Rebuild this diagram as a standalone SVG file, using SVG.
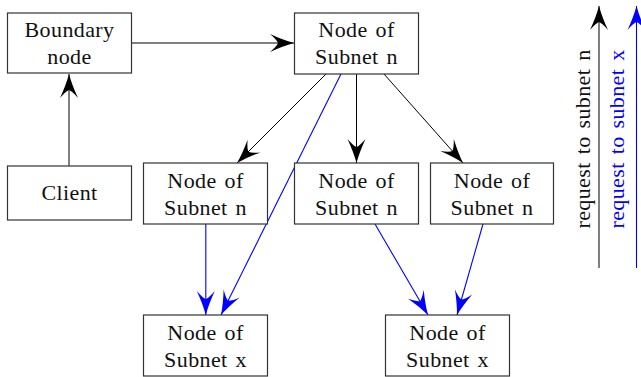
<svg xmlns="http://www.w3.org/2000/svg" width="641" height="377" viewBox="0 0 641 377">
<style>
.box{fill:#fff;stroke:#333;stroke-width:1.2}
.t{font-family:'Liberation Serif','Times New Roman',Times,serif;font-size:22px;fill:#111;text-anchor:middle;word-spacing:2px;letter-spacing:0.4px}
.k{stroke:#000;stroke-width:1;fill:none}
.b{stroke:#0000ff;stroke-width:1.1;fill:none}
</style>
<defs>
<marker id="ak" markerUnits="userSpaceOnUse" markerWidth="30" markerHeight="24" viewBox="-26 -12 28 24" refX="0" refY="0" orient="auto">
<path d="M0,0 Q-11,-3 -24,-9 Q-17,-3 -16,0 Q-17,3 -24,9 Q-11,3 0,0 Z" fill="#000"/>
</marker>
<marker id="ab" markerUnits="userSpaceOnUse" markerWidth="30" markerHeight="24" viewBox="-26 -12 28 24" refX="0" refY="0" orient="auto">
<path d="M0,0 Q-11,-3 -24,-9 Q-17,-3 -16,0 Q-17,3 -24,9 Q-11,3 0,0 Z" fill="#0000ff"/>
</marker>
</defs>
<rect width="641" height="377" fill="#fff"/>
<g id="connectors">
<line class="k" x1="131" y1="43" x2="294" y2="43" marker-end="url(#ak)"/>
<line class="k" x1="69" y1="166" x2="69" y2="74" marker-end="url(#ak)"/>
<line class="k" x1="326" y1="74" x2="237" y2="163" marker-end="url(#ak)"/>
<line class="k" x1="356.5" y1="74" x2="356.5" y2="163" marker-end="url(#ak)"/>
<line class="k" x1="384" y1="74" x2="463" y2="163" marker-end="url(#ak)"/>
<line class="b" x1="341" y1="74" x2="221" y2="315" marker-end="url(#ab)"/>
<line class="b" x1="205.8" y1="224" x2="205.8" y2="315" marker-end="url(#ab)"/>
<line class="b" x1="375" y1="224" x2="428" y2="315" marker-end="url(#ab)"/>
<line class="b" x1="483" y1="224" x2="457" y2="315" marker-end="url(#ab)"/>
</g>
<g id="boundary">
<rect class="box" x="7.5" y="13" width="124" height="60"/>
<text class="t" x="69.5" y="37">Boundary</text>
<text class="t" x="69.5" y="64">node</text>
</g>
<g id="client">
<rect class="box" x="7.5" y="166" width="124" height="54"/>
<text class="t" x="69.5" y="200">Client</text>
</g>
<g id="top-n">
<rect class="box" x="294.5" y="13" width="124" height="61"/>
<text class="t" x="356.5" y="37">Node of</text>
<text class="t" x="356.5" y="64">Subnet n</text>
</g>
<g id="mid-n1">
<rect class="box" x="143.5" y="163" width="124" height="61"/>
<text class="t" x="205.5" y="188">Node of</text>
<text class="t" x="205.5" y="215">Subnet n</text>
</g>
<g id="mid-n2">
<rect class="box" x="294.5" y="163" width="124" height="61"/>
<text class="t" x="356.5" y="188">Node of</text>
<text class="t" x="356.5" y="215">Subnet n</text>
</g>
<g id="mid-n3">
<rect class="box" x="430.5" y="163" width="123" height="61"/>
<text class="t" x="492" y="188">Node of</text>
<text class="t" x="492" y="215">Subnet n</text>
</g>
<g id="bot-x1">
<rect class="box" x="143.5" y="315" width="124" height="61"/>
<text class="t" x="205.5" y="340">Node of</text>
<text class="t" x="205.5" y="367">Subnet x</text>
</g>
<g id="bot-x2">
<rect class="box" x="385.5" y="315" width="124" height="61"/>
<text class="t" x="447.5" y="340">Node of</text>
<text class="t" x="447.5" y="367">Subnet x</text>
</g>
<g id="legend">
<line class="k" x1="599" y1="268" x2="599" y2="6" marker-end="url(#ak)"/>
<line class="b" x1="636.5" y1="268" x2="636.5" y2="6" marker-end="url(#ab)"/>
<text class="t" transform="translate(590,139) rotate(-90)">request to subnet n</text>
<text class="t" style="fill:#0000ff" transform="translate(624,139) rotate(-90)">request to subnet x</text>
</g>
</svg>
